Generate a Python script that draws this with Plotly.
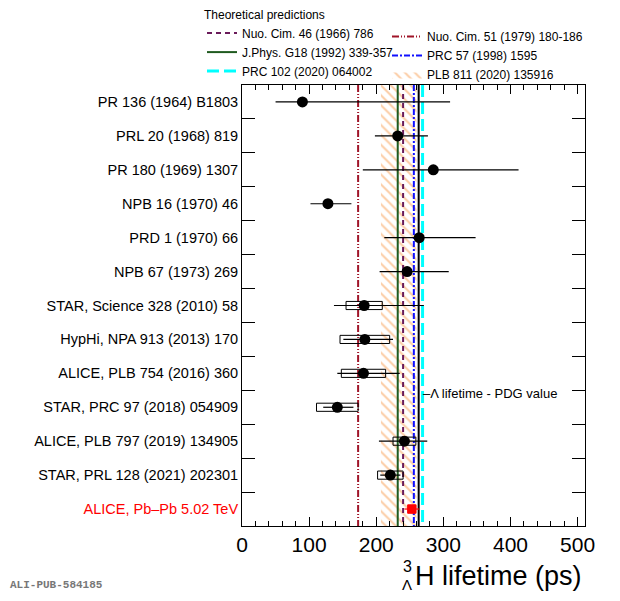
import plotly.graph_objects as go

# measurements (ps): central value, stat +/-, syst
labels = [
    "PR 136 (1964) B1803",
    "PRL 20 (1968) 819",
    "PR 180 (1969) 1307",
    "NPB 16 (1970) 46",
    "PRD 1 (1970) 66",
    "NPB 67 (1973) 269",
    "STAR, Science 328 (2010) 58",
    "HypHi, NPA 913 (2013) 170",
    "ALICE, PLB 754 (2016) 360",
    "STAR, PRC 97 (2018) 054909",
    "ALICE, PLB 797 (2019) 134905",
    "STAR, PRL 128 (2021) 202301",
]
tau = [90, 232, 285, 128, 264, 246, 182, 183, 181, 142, 242, 221]
stat_up = [220, 45, 127, 35, 84, 62, 89, 42, 54, 24, 34, 15]
stat_dn = [40, 34, 105, 26, 52, 41, 45, 32, 39, 21, 38, 15]
syst = [0, 0, 0, 0, 0, 0, 27, 37, 33, 31, 17, 19]

new_label = "ALICE, Pb\u2013Pb 5.02 TeV"
new_tau = 253
new_stat = 11
new_syst = 6

# theory predictions (ps)
theo_names = ["Nuo. Cim. 46 (1966) 786", "Nuo. Cim. 51 (1979) 180-186",
              "J.Phys. G18 (1992) 339-357", "PRC 57 (1998) 1595",
              "PRC 102 (2020) 064002"]
theo_vals = [240, 173, 232, 256, 269]
theo_colors = ["#6a1b5a", "#a01428", "#1f5a1f", "#1010ff", "#00ffff"]
theo_dash = ["5px,4px", "7px,2px,1px,2px,1px,2px", "solid", "6px,2px,2px,2px", "12px,5px"]
theo_width = [2, 2, 2, 2, 3]
theo_legend = ["legend", "legend2", "legend", "legend2", "legend"]
band_name = "PLB 811 (2020) 135916"
band_lo, band_hi = 207, 260
pdg_tau = 263.2

n_rows = len(labels) + 1
rows = [i + 0.5 for i in range(n_rows)]

# page has an 8px body margin, so the figure is a bit smaller than the window
OFF = 8
W, H = 604, 585
L, R, T, B = 234, 27, 77, 67
pw, ph = W - L - R, H - T - B


def px(xa):
    return (xa - OFF - L) / pw


def py(ya):
    return (H - B - (ya - OFF)) / ph


fig = go.Figure()

# hatched band
fig.add_trace(go.Scatter(
    x=[band_lo, band_hi, band_hi, band_lo, band_lo],
    y=[0, 0, n_rows, n_rows, 0], mode="lines", fill="toself",
    fillcolor="rgba(0,0,0,0)",
    fillpattern=dict(shape="\\", fgcolor="#f7994a", bgcolor="rgba(255,255,255,0)",
                     size=7, solidity=0.28),
    line=dict(color="#f7994a", width=0), name=band_name,
    legend="legend2", legendrank=1010))

# theory lines
for k in range(len(theo_names)):
    fig.add_trace(go.Scatter(
        x=[theo_vals[k], theo_vals[k]], y=[0, n_rows], mode="lines",
        line=dict(color=theo_colors[k], width=theo_width[k], dash=theo_dash[k]),
        name=theo_names[k], legend=theo_legend[k], legendrank=1000 + k))

fig.add_trace(go.Scatter(
    x=[pdg_tau, pdg_tau], y=[0, n_rows], mode="lines",
    line=dict(color="black", width=2), showlegend=False))

# systematic boxes
box_h = 0.12
for i in range(len(labels)):
    if syst[i] > 0:
        x0, x1 = tau[i] - syst[i], tau[i] + syst[i]
        y0, y1 = rows[i] - box_h, rows[i] + box_h
        fig.add_trace(go.Scatter(
            x=[x0, x1, x1, x0, x0], y=[y0, y0, y1, y1, y0], mode="lines",
            line=dict(color="black", width=1), showlegend=False, hoverinfo="skip"))
fig.add_trace(go.Scatter(
    x=[new_tau - new_syst, new_tau + new_syst, new_tau + new_syst, new_tau - new_syst, new_tau - new_syst],
    y=[rows[-1] - box_h, rows[-1] - box_h, rows[-1] + box_h, rows[-1] + box_h, rows[-1] - box_h],
    mode="lines", line=dict(color="red", width=1), showlegend=False))

# points with stat errors
fig.add_trace(go.Scatter(
    x=tau, y=rows[:-1], mode="markers",
    marker=dict(color="black", size=11, symbol="circle"),
    error_x=dict(type="data", symmetric=False, array=stat_up, arrayminus=stat_dn,
                 width=0, thickness=1.2, color="black"),
    showlegend=False))
fig.add_trace(go.Scatter(
    x=[new_tau], y=[rows[-1]], mode="markers",
    marker=dict(color="red", size=9, symbol="square"),
    error_x=dict(type="data", array=[new_stat], width=0, thickness=1.2, color="red"),
    showlegend=False))

ticktext = labels + ["<span style='color:red'>" + new_label + "</span>"]

leg_common = dict(orientation="v", xanchor="left", yanchor="top", font=dict(size=12),
                  bgcolor="rgba(0,0,0,0)", itemwidth=30, tracegroupgap=0,
                  traceorder="normal")

fig.update_layout(
    width=W, height=H,
    margin=dict(l=L, r=R, t=T, b=B, autoexpand=False),
    plot_bgcolor="white", paper_bgcolor="white",
    font=dict(family="Liberation Sans, Arial, sans-serif", color="black"),
    legend=dict(x=px(202), y=py(3),
                title=dict(text="Theoretical predictions", side="top", font=dict(size=12)),
                **leg_common),
    legend2=dict(x=px(387), y=py(22), **leg_common),
    xaxis=dict(range=[0, 511], showline=True, linecolor="black", linewidth=1, mirror="allticks",
               ticks="inside", ticklen=9, tickcolor="black", dtick=100, tick0=0,
               minor=dict(dtick=20, ticklen=5, ticks="inside", tickcolor="black"),
               tickfont=dict(size=21), showgrid=False, zeroline=False, automargin=False),
    yaxis=dict(range=[n_rows, 0], showline=True, linecolor="black", linewidth=1, mirror="allticks",
               tickmode="array", tickvals=rows, ticktext=ticktext, ticks="", ticklen=0,
               minor=dict(tickmode="array", tickvals=list(range(1, n_rows)), ticklen=13,
                          ticks="inside", tickcolor="black"),
               tickfont=dict(size=14.5), showgrid=False, zeroline=False, automargin=False),
    showlegend=True,
)

fig.add_annotation(x=pdg_tau, y=9.1, xref="x", yref="y", xanchor="left", yanchor="middle",
                   xshift=2, text="\u2013\u039b lifetime - PDG value", showarrow=False,
                   font=dict(size=13))
fig.add_annotation(x=px(584), y=py(576), xref="paper", yref="paper", xanchor="right",
                   yanchor="middle", text="H lifetime (ps)", showarrow=False,
                   font=dict(size=27))
fig.add_annotation(x=px(407), y=py(566), xref="paper", yref="paper", xanchor="center",
                   yanchor="middle", text="3", showarrow=False, font=dict(size=16))
fig.add_annotation(x=px(407), y=py(584), xref="paper", yref="paper", xanchor="center",
                   yanchor="middle", text="\u039b", showarrow=False, font=dict(size=15))
fig.add_annotation(x=px(8), y=py(585), xref="paper", yref="paper", xanchor="left",
                   yanchor="middle", text="<b>ALI-PUB-584185</b>", showarrow=False,
                   font=dict(size=11, family="Liberation Mono, Courier New, monospace", color="#777777"))

fig.write_html("out.html")
